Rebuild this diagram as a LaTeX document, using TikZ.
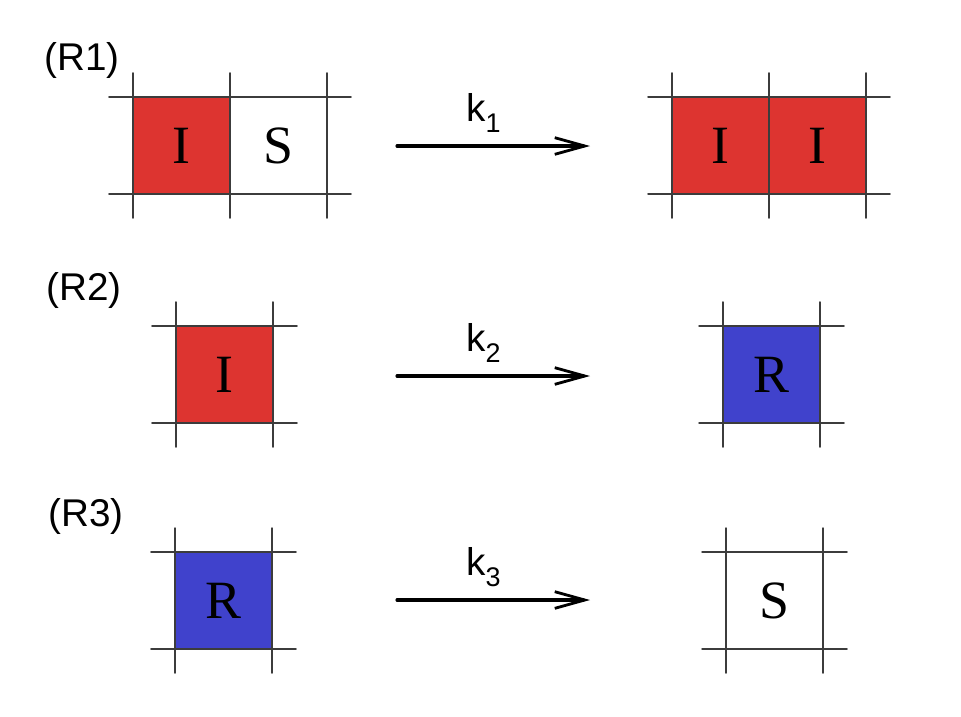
\documentclass[tikz,border=0pt]{standalone}
\usepackage{fontspec}
\setmainfont{Liberation Serif}
\newfontfamily\labelfont{Liberation Sans}
\usetikzlibrary{arrows.meta}
\definecolor{infred}{RGB}{221,52,48}
\definecolor{recblue}{RGB}{64,66,204}
\definecolor{gridgray}{RGB}{60,60,60}
% lattice lines round a row of cells: left x, top y, number of cells
\newcommand{\lattice}[3]{%
  \foreach \i in {0,...,#3}
    \draw[gridline] ({#1+97*\i},{#2-24}) -- ({#1+97*\i},{#2+121});
  \draw[gridline] ({#1-24},#2) -- ({#1+97*#3+24},#2);
  \draw[gridline] ({#1-24},{#2+97}) -- ({#1+97*#3+24},{#2+97});
}
\newcommand{\rate}[1]{k\raisebox{-0.28em}{\fontsize{23}{26}\selectfont #1}}
\begin{document}
\begin{tikzpicture}[x=0.03cm, y=-0.03cm, line cap=round,
    cell/.style={minimum size=2.91cm, inner sep=0pt, font=\fontsize{46}{52}\selectfont},
    gridline/.style={draw=gridgray, line width=1.3pt},
    react/.style={-{Straight Barb[length=0.9cm, width=0.5cm, line width=2.4pt]}, line width=2.6pt},
    ratelabel/.style={above=0.36cm, xshift=-0.3cm, inner sep=0pt, font=\labelfont\fontsize{33}{38}\selectfont},
    rxnlabel/.style={font=\labelfont\fontsize{33}{38}\selectfont}]
  \useasboundingbox (0,0) rectangle (961,716);
  % (R1)
  \node[rxnlabel] (r1) at (82,60) {(R1)};
  \node[cell, fill=infred] (c11) at (181.5,145.5) {I};
  \node[cell] (c12) at (278.5,145.5) {S};
  \lattice{133}{97}{2}
  \coordinate (s1) at (397,146);
  \coordinate (e1) at (590,146);
  \draw[react] (s1) -- node[ratelabel] (k1) {\rate{1}} (e1);
  \node[cell, fill=infred] (d11) at (720.5,145.5) {I};
  \node[cell, fill=infred] (d12) at (817.5,145.5) {I};
  \lattice{672}{97}{2}
  % (R2)
  \node[rxnlabel] (r2) at (84,290) {(R2)};
  \node[cell, fill=infred] (c2) at (224.5,374.5) {I};
  \lattice{176}{326}{1}
  \coordinate (s2) at (397,376);
  \coordinate (e2) at (590,376);
  \draw[react] (s2) -- node[ratelabel] (k2) {\rate{2}} (e2);
  \node[cell, fill=recblue] (d2) at (771.5,374.5) {R};
  \lattice{723}{326}{1}
  % (R3)
  \node[rxnlabel] (r3) at (86,516) {(R3)};
  \node[cell, fill=recblue] (c3) at (223.5,600.5) {R};
  \lattice{175}{552}{1}
  \coordinate (s3) at (397,600);
  \coordinate (e3) at (590,600);
  \draw[react] (s3) -- node[ratelabel] (k3) {\rate{3}} (e3);
  \node[cell] (d3) at (774.5,600.5) {S};
  \lattice{726}{552}{1}
\end{tikzpicture}
\end{document}
